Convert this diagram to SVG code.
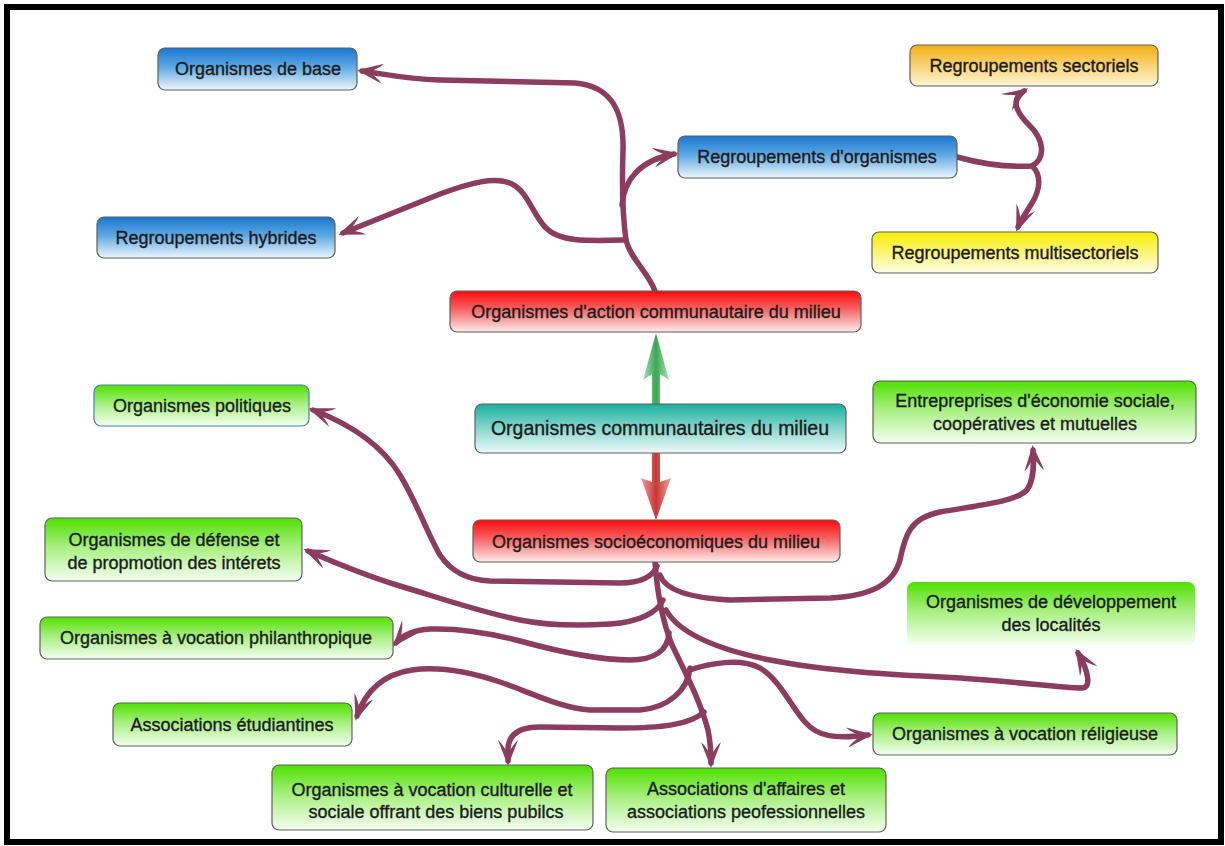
<svg xmlns="http://www.w3.org/2000/svg" width="1225" height="846" viewBox="0 0 1225 846">
  <defs>
    <style>
      .box { stroke: #5f5f5f; stroke-width: 1.2; }
      .lbl { font-family: "Liberation Sans", Arial, sans-serif; font-size: 18px; fill: #1b1b1b; stroke: #1b1b1b; stroke-width: 0.35; text-anchor: middle; }
      .big { font-size: 19.5px; }
      .link { fill: none; stroke: #8c3c5e; stroke-width: 5.5; stroke-linecap: round; stroke-linejoin: round; }
    </style>
    <linearGradient id="gBlue" x1="0" y1="0" x2="0" y2="1">
      <stop offset="0" stop-color="#1877cf"/>
      <stop offset="0.45" stop-color="#5ea8e2"/>
      <stop offset="1" stop-color="#eef6fc"/>
    </linearGradient>
    <linearGradient id="gGreen" x1="0" y1="0" x2="0" y2="1">
      <stop offset="0" stop-color="#4fe000"/>
      <stop offset="0.45" stop-color="#a6ef7e"/>
      <stop offset="1" stop-color="#f4fff0"/>
    </linearGradient>
    <linearGradient id="gRed" x1="0" y1="0" x2="0" y2="1">
      <stop offset="0" stop-color="#ff0a0a"/>
      <stop offset="0.4" stop-color="#f65a5a"/>
      <stop offset="1" stop-color="#fdeaea"/>
    </linearGradient>
    <linearGradient id="gTeal" x1="0" y1="0" x2="0" y2="1">
      <stop offset="0" stop-color="#18b0a0"/>
      <stop offset="0.45" stop-color="#7fd3c9"/>
      <stop offset="1" stop-color="#eefaf8"/>
    </linearGradient>
    <linearGradient id="gOrange" x1="0" y1="0" x2="0" y2="1">
      <stop offset="0" stop-color="#f5ae12"/>
      <stop offset="0.45" stop-color="#f8cf6a"/>
      <stop offset="1" stop-color="#fdf4d6"/>
    </linearGradient>
    <linearGradient id="gYellow" x1="0" y1="0" x2="0" y2="1">
      <stop offset="0" stop-color="#f6ee00"/>
      <stop offset="0.45" stop-color="#f9f46a"/>
      <stop offset="1" stop-color="#fdfde8"/>
    </linearGradient>
    <linearGradient id="gUp" x1="0" y1="0" x2="1" y2="0">
      <stop offset="0" stop-color="#a8e0b2"/>
      <stop offset="0.5" stop-color="#3aa655"/>
      <stop offset="1" stop-color="#a8e0b2"/>
    </linearGradient>
    <linearGradient id="gDown" x1="0" y1="0" x2="1" y2="0">
      <stop offset="0" stop-color="#f0a098"/>
      <stop offset="0.5" stop-color="#c63838"/>
      <stop offset="1" stop-color="#f0a098"/>
    </linearGradient>
    <marker id="arr" viewBox="-26 -11 30 22" refX="-3" refY="0" markerWidth="30" markerHeight="22" markerUnits="userSpaceOnUse" orient="auto">
      <path d="M2,0 L-24,-10 L-21,-7 L-11,0 L-21,7 L-24,10 Z" fill="#8c3c5e"/>
    </marker>
  </defs>

  <!-- frame -->
  <rect x="0" y="0" width="1225" height="846" fill="#ffffff"/>
  <rect x="7" y="7" width="1214" height="835" fill="none" stroke="#000000" stroke-width="6"/>

  <!-- connectors -->
  <g id="connectors">
    <!-- upper cluster -->
    <path class="link" marker-end="url(#arr)" d="M655,291 C 648,272 630,258 626,240 C 622,212 622,180 623,150 C 624,112 612,86 575,83 L 440,80 C 405,79 385,74 362,71"/>
    <path class="link" marker-end="url(#arr)" d="M626,240 C 585,241 560,242 546,228 C 533,215 528,192 512,184 C 495,176 470,183 440,194 L 343,233"/>
    <path class="link" marker-end="url(#arr)" d="M622,205 C 624,180 640,160 674,154"/>
    <path class="link" marker-end="url(#arr)" d="M957,157 C 975,162 1000,168 1032,166 C 1046,158 1044,140 1030,126 C 1016,112 1010,100 1024,91"/>
    <path class="link" marker-end="url(#arr)" d="M1032,166 C 1042,175 1040,190 1032,203 C 1025,214 1020,222 1018,227"/>

    <!-- lower cluster -->
    <path class="link" marker-end="url(#arr)" d="M655,562 C 657,590 662,620 672,645 C 685,672 700,700 708,730 C 711,745 711,755 711,763"/>
    <path class="link" marker-end="url(#arr)" d="M657,566 C 652,578 640,583 620,583 L 490,581 C 465,580 450,570 440,555 C 428,535 418,505 400,475 C 385,450 360,428 313,410"/>
    <path class="link" marker-end="url(#arr)" d="M663,600 C 658,612 640,622 610,624 C 580,626 550,626 520,620 C 480,612 440,598 400,586 C 370,577 340,565 308,551"/>
    <path class="link" marker-end="url(#arr)" d="M669,633 C 668,650 655,660 630,660 C 600,660 560,652 520,641 C 490,633 460,628 430,629 C 412,630 402,636 396,643"/>
    <path class="link" marker-end="url(#arr)" d="M690,668 C 688,690 668,708 640,710 L 590,710 C 560,708 530,692 500,682 C 470,672 440,666 412,670 C 385,674 366,690 357,716"/>
    <path class="link" marker-end="url(#arr)" d="M666,610 C 680,635 720,650 770,660 C 830,672 900,675 960,678 C 1020,682 1060,688 1082,688 C 1092,688 1088,670 1078,653"/>
    <path class="link" marker-end="url(#arr)" d="M660,575 C 665,590 690,598 730,600 L 830,598 C 870,596 893,585 900,560 C 905,535 910,518 940,512 C 980,505 1015,502 1027,490 C 1034,480 1034,465 1033,450"/>
    <path class="link" marker-end="url(#arr)" d="M690,670 C 710,663 740,658 760,668 C 780,680 790,705 805,722 C 818,737 835,739 868,735"/>
    <path class="link" marker-end="url(#arr)" d="M704,712 C 690,725 660,728 620,728 L 540,727 C 518,727 509,735 508,748 L 508,761"/>

    <!-- central arrows -->
    <path d="M652,404 L652,374 L643,380 L656,333 L669,380 L660,374 L660,404 Z" fill="url(#gUp)"/>
    <path d="M652,453 L652,482 L641,478 L656,520 L671,478 L660,482 L660,453 Z" fill="url(#gDown)"/>
  </g>

  <!-- nodes -->
  <g id="n-base">
    <rect class="box" x="158" y="48" width="199" height="42" rx="7" fill="url(#gBlue)"/>
    <text class="lbl" x="258" y="75">Organismes de base</text>
  </g>
  <g id="n-sectoriels">
    <rect class="box" x="910" y="45" width="248" height="41" rx="7" fill="url(#gOrange)"/>
    <text class="lbl" x="1034" y="72">Regroupements sectoriels</text>
  </g>
  <g id="n-regroupements">
    <rect class="box" x="678" y="136" width="279" height="42" rx="7" fill="url(#gBlue)"/>
    <text class="lbl" x="817" y="163">Regroupements d'organismes</text>
  </g>
  <g id="n-hybrides">
    <rect class="box" x="97" y="217" width="238" height="41" rx="7" fill="url(#gBlue)"/>
    <text class="lbl" x="216" y="244">Regroupements hybrides</text>
  </g>
  <g id="n-multisectoriels">
    <rect class="box" x="872" y="232" width="286" height="41" rx="7" fill="url(#gYellow)"/>
    <text class="lbl" x="1015" y="259">Regroupements multisectoriels</text>
  </g>
  <g id="n-action">
    <rect class="box" x="450" y="291" width="411" height="41" rx="7" fill="url(#gRed)"/>
    <text class="lbl" x="656" y="318">Organismes d'action communautaire du milieu</text>
  </g>
  <g id="n-communautaires">
    <rect class="box" x="475" y="404" width="371" height="49" rx="7" fill="url(#gTeal)"/>
    <text class="lbl big" x="660" y="435">Organismes communautaires du milieu</text>
  </g>
  <g id="n-socioeconomiques">
    <rect class="box" x="473" y="520" width="367" height="42" rx="7" fill="url(#gRed)"/>
    <text class="lbl" x="656" y="548">Organismes socioéconomiques du milieu</text>
  </g>
  <g id="n-politiques">
    <rect class="box" x="94" y="385" width="215" height="41" rx="7" fill="url(#gGreen)" style="stroke:#4a7fa8"/>
    <text class="lbl" x="202" y="412">Organismes politiques</text>
  </g>
  <g id="n-economie-sociale">
    <rect class="box" x="873" y="381" width="323" height="62" rx="7" fill="url(#gGreen)"/>
    <text class="lbl" x="1035" y="407">Entrepreprises d'économie sociale,</text>
    <text class="lbl" x="1035" y="430">coopératives et mutuelles</text>
  </g>
  <g id="n-defense">
    <rect class="box" x="45" y="518" width="257" height="63" rx="7" fill="url(#gGreen)"/>
    <text class="lbl" x="174" y="546">Organismes de défense et</text>
    <text class="lbl" x="174" y="569">de propmotion des intérets</text>
  </g>
  <g id="n-developpement">
    <rect x="907" y="582" width="288" height="63" rx="7" fill="url(#gGreen)"/>
    <text class="lbl" x="1051" y="608">Organismes de développement</text>
    <text class="lbl" x="1051" y="631">des localités</text>
  </g>
  <g id="n-philanthropique">
    <rect class="box" x="40" y="617" width="353" height="42" rx="7" fill="url(#gGreen)"/>
    <text class="lbl" x="216" y="644">Organismes à vocation philanthropique</text>
  </g>
  <g id="n-etudiantines">
    <rect class="box" x="113" y="703" width="239" height="43" rx="7" fill="url(#gGreen)"/>
    <text class="lbl" x="232" y="731">Associations étudiantines</text>
  </g>
  <g id="n-religieuse">
    <rect class="box" x="873" y="713" width="304" height="42" rx="7" fill="url(#gGreen)"/>
    <text class="lbl" x="1025" y="740">Organismes à vocation réligieuse</text>
  </g>
  <g id="n-culturelle">
    <rect class="box" x="272" y="765" width="321" height="65" rx="7" fill="url(#gGreen)"/>
    <text class="lbl" x="432" y="796">Organismes à vocation culturelle et</text>
    <text class="lbl" x="436" y="818">sociale offrant des biens pubilcs</text>
  </g>
  <g id="n-affaires">
    <rect class="box" x="606" y="768" width="280" height="64" rx="7" fill="url(#gGreen)"/>
    <text class="lbl" x="746" y="795">Associations d'affaires et</text>
    <text class="lbl" x="746" y="818">associations peofessionnelles</text>
  </g>
</svg>
